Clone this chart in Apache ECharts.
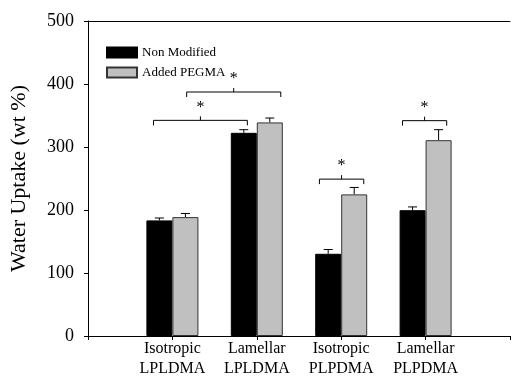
<!DOCTYPE html>
<html>
<head>
<meta charset="utf-8">
<script src="https://cdn.jsdelivr.net/npm/echarts@6/dist/echarts.min.js"></script>
<style>html,body{margin:0;padding:0;background:#fff}#c{width:513px;height:379px}</style>
</head>
<body>
<div id="c"></div>
<script>
// Categories (padded with empty slots at both ends)
var categories = ['', 'Isotropic\nLPLDMA', 'Lamellar\nLPLDMA', 'Isotropic\nPLPDMA', 'Lamellar\nPLPDMA', ''];
var seriesNames = ['Non Modified', 'Added PEGMA'];
var nonModified = [null, 183.5, 322.5, 130.5, 199.7, null];
var nonModifiedErr = [null, 3.8, 5, 6.8, 5.2, null];
var addedPegma = [null, 188.7, 339, 224.8, 310.8, null];
var addedPegmaErr = [null, 5.8, 7, 11, 16.7, null];
var yTicks = [0, 100, 200, 300, 400, 500];
// significance brackets: [xStart, xEnd, y] in axis units
var brackets = [
  [0.776, 1.888, 342.3],
  [1.169, 2.284, 387.3],
  [2.742, 3.267, 249],
  [3.726, 4.25, 341.8]
];
var bracketLabel = '*';

var FONT = 'Liberation Serif';
var chart = echarts.init(document.getElementById('c'));

function errItem(offset) {
  return function (params, api) {
    var idx = api.value(0), v = api.value(1), e = api.value(2);
    var p0 = api.coord([idx, v]);
    var p1 = api.coord([idx, v + e]);
    var x = p0[0] + offset;
    return {
      type: 'group',
      children: [
        {type: 'line', shape: {x1: x, y1: p0[1], x2: x, y2: p1[1]}, style: {stroke: '#000', lineWidth: 1}},
        {type: 'line', shape: {x1: x - 4.5, y1: p1[1], x2: x + 4.5, y2: p1[1]}, style: {stroke: '#000', lineWidth: 1}}
      ]
    };
  };
}

function errData(vals, errs) {
  var out = [];
  for (var i = 0; i < vals.length; i++) {
    if (vals[i] != null) out.push([i, vals[i], errs[i]]);
  }
  return out;
}

chart.setOption({
  animation: false,
  backgroundColor: '#fff',
  grid: {left: 84, right: -3, top: 21, bottom: 40, containLabel: false},
  legend: {
    orient: 'vertical', left: 101, top: 41, icon: 'rect',
    itemWidth: 30, itemHeight: 10, itemGap: 7,
    textStyle: {fontFamily: FONT, fontSize: 13, color: '#000'},
    data: seriesNames
  },
  xAxis: [{
    type: 'category', data: categories, boundaryGap: false,
    axisLine: {lineStyle: {color: '#000', width: 1}},
    axisTick: {show: true, length: 4, inside: false, lineStyle: {color: '#000'}},
    axisLabel: {fontFamily: FONT, fontSize: 16, color: '#000', lineHeight: 20, margin: 3, interval: 0},
    splitLine: {show: false}
  }, {
    type: 'value', min: 0, max: 5, position: 'top',
    axisLine: {show: true, onZero: false, lineStyle: {color: '#000', width: 1}},
    axisTick: {show: false}, axisLabel: {show: false}, splitLine: {show: false}
  }],
  yAxis: {
    type: 'value', min: yTicks[0], max: yTicks[yTicks.length - 1], interval: 100,
    name: 'Water Uptake (wt %)', nameLocation: 'middle', nameRotate: 90, nameGap: 58,
    nameTextStyle: {fontFamily: FONT, fontSize: 22, color: '#000'},
    axisLine: {show: true, lineStyle: {color: '#000', width: 1}},
    axisTick: {show: true, length: 4, lineStyle: {color: '#000'}},
    axisLabel: {fontFamily: FONT, fontSize: 18, color: '#000', margin: 14},
    splitLine: {show: false}
  },
  series: [
    {
      name: seriesNames[0], type: 'bar', data: nonModified, barWidth: 26, barGap: '0%',
      itemStyle: {color: '#000', borderColor: '#000', borderWidth: 1}
    },
    {
      name: seriesNames[1], type: 'bar', data: addedPegma, barWidth: 26, barGap: '0%',
      itemStyle: {color: '#c0c0c0', borderColor: '#333', borderWidth: 1}
    },
    {
      type: 'custom', renderItem: errItem(-13), data: errData(nonModified, nonModifiedErr), z: 1
    },
    {
      type: 'custom', renderItem: errItem(13), data: errData(addedPegma, addedPegmaErr), z: 1
    },
    {
      type: 'custom', xAxisIndex: 1, data: brackets, z: 5,
      renderItem: function (params, api) {
        var a = api.coord([api.value(0), api.value(2)]);
        var b = api.coord([api.value(1), api.value(2)]);
        var xm = (a[0] + b[0]) / 2;
        var y = a[1];
        return {
          type: 'group',
          children: [
            {type: 'polyline', shape: {points: [[a[0], y + 5], [a[0], y], [b[0], y], [b[0], y + 5]]}, style: {stroke: '#000', fill: null, lineWidth: 1}},
            {type: 'line', shape: {x1: xm, y1: y, x2: xm, y2: y - 4}, style: {stroke: '#000', lineWidth: 1}},
            {type: 'text', style: {text: bracketLabel, x: xm, y: y - 5, align: 'center', verticalAlign: 'bottom', font: '16px "Liberation Serif"', fill: '#000'}}
          ]
        };
      }
    }
  ]
});
</script>
</body>
</html>
